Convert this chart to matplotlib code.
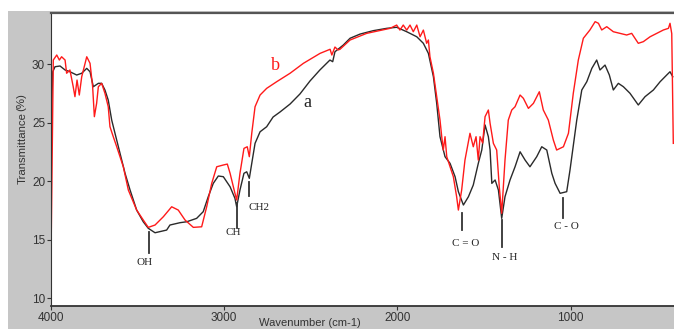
import matplotlib.pyplot as plt
from matplotlib.patches import Rectangle

# spectrum a (black)
wn_a = [3999, 3988, 3975, 3946, 3917, 3889, 3850, 3821, 3792, 3773, 3754, 3725, 3706,
        3687, 3668, 3648, 3629, 3600, 3571, 3542, 3504, 3466, 3437, 3398, 3331, 3312,
        3254, 3215, 3158, 3120, 3091, 3062, 3033, 3004, 2965, 2937, 2927, 2908, 2885,
        2869, 2854, 2840, 2821, 2792, 2754, 2717, 2677, 2619, 2562, 2504, 2447, 2389,
        2373, 2360, 2312, 2273, 2215, 2139, 2061, 2004, 1946, 1888, 1850, 1821, 1792,
        1773, 1754, 1725, 1696, 1667, 1648, 1619, 1590, 1562, 1533, 1513, 1494, 1475,
        1465, 1455, 1436, 1417, 1398, 1379, 1350, 1321, 1292, 1263, 1235, 1196, 1167,
        1138, 1109, 1090, 1061, 1023, 1004, 965, 936, 907, 878, 850, 831, 802, 777,
        754, 725, 696, 658, 610, 571, 523, 484, 446, 427, 411]
t_a = [24.1, 29.34, 29.77, 29.83, 29.49, 29.34, 29.06, 29.21, 29.63, 29.34, 28.06, 28.35,
       28.35, 27.78, 26.92, 25.21, 24.08, 22.37, 20.66, 19.23, 17.52, 16.52, 15.96, 15.58,
       15.81, 16.24, 16.44, 16.52, 16.81, 17.38, 18.66, 19.80, 20.43, 20.37, 19.51, 18.52,
       17.80, 19.23, 20.66, 20.79, 20.23, 21.51, 23.22, 24.21, 24.64, 25.47, 25.90, 26.58,
       27.44, 28.55, 29.49, 30.34, 30.20, 31.05, 31.62, 32.20, 32.56, 32.85, 33.05, 33.14,
       32.76, 32.33, 31.77, 30.91, 28.91, 26.64, 23.79, 22.08, 21.51, 20.37, 19.09, 17.95,
       18.66, 19.66, 21.51, 22.65, 24.79, 23.79, 22.65, 19.80, 20.09, 19.23, 16.81, 18.66,
       20.09, 21.22, 22.50, 21.79, 21.22, 22.08, 22.93, 22.65, 20.66, 19.80, 18.95, 19.09,
       20.94, 25.21, 27.78, 28.49, 29.63, 30.34, 29.49, 29.91, 29.06, 27.78, 28.35, 28.06,
       27.50, 26.50, 27.21, 27.78, 28.49, 29.06, 29.34, 28.91]

# spectrum b (red)
wn_b = [3999, 3985, 3965, 3950, 3937, 3917, 3908, 3889, 3870, 3860, 3848, 3835, 3821,
        3792, 3773, 3758, 3748, 3735, 3725, 3706, 3687, 3668, 3658, 3639, 3619, 3581,
        3552, 3504, 3466, 3437, 3398, 3350, 3302, 3264, 3225, 3177, 3129, 3100, 3071,
        3042, 3004, 2981, 2965, 2937, 2927, 2908, 2885, 2866, 2854, 2840, 2821, 2792,
        2754, 2696, 2619, 2542, 2446, 2388, 2378, 2360, 2342, 2331, 2273, 2177, 2042,
        2004, 1985, 1966, 1946, 1927, 1908, 1888, 1869, 1850, 1831, 1821, 1812, 1792,
        1773, 1754, 1744, 1735, 1725, 1715, 1696, 1677, 1658, 1648, 1629, 1610, 1581,
        1562, 1546, 1533, 1523, 1508, 1494, 1475, 1465, 1446, 1427, 1412, 1398, 1379,
        1360, 1340, 1321, 1292, 1273, 1244, 1215, 1181, 1158, 1129, 1100, 1081, 1042,
        1013, 985, 956, 927, 889, 859, 840, 821, 792, 754, 715, 677, 648, 610, 581,
        542, 504, 465, 436, 427, 417, 408]
t_b = [12.2, 30.34, 30.77, 30.34, 30.62, 30.34, 29.21, 29.49, 28.06, 27.21, 28.63, 27.35,
       28.91, 30.62, 30.06, 28.06, 25.50, 26.64, 28.06, 28.35, 27.50, 26.35, 24.64, 23.79,
       22.93, 21.22, 19.23, 17.52, 16.67, 16.04, 16.24, 16.95, 17.80, 17.52, 16.67, 16.04,
       16.09, 17.80, 19.80, 21.22, 21.37, 21.45, 20.66, 18.95, 18.38, 20.66, 22.79, 22.93,
       22.08, 24.08, 26.35, 27.35, 27.92, 28.49, 29.21, 30.06, 30.91, 31.26, 30.77, 31.45,
       31.20, 31.26, 32.05, 32.62, 33.05, 33.33, 32.90, 33.33, 32.90, 33.33, 32.76, 33.33,
       32.33, 32.90, 31.77, 32.05, 30.62, 29.21, 27.21, 25.21, 23.79, 22.65, 23.79, 22.08,
       21.22, 20.37, 18.66, 17.52, 19.23, 21.79, 24.08, 22.93, 23.79, 21.79, 23.79, 23.25,
       25.50, 26.07, 24.93, 23.22, 22.65, 19.51, 17.24, 21.79, 25.21, 26.07, 26.35, 27.35,
       27.07, 26.21, 26.64, 27.63, 26.07, 25.21, 23.50, 22.65, 22.93, 24.08, 27.50, 30.34,
       32.20, 32.91, 33.62, 33.48, 32.91, 33.19, 32.76, 32.62, 32.48, 32.62, 31.77, 31.91,
       32.33, 32.62, 32.91, 33.05, 33.48, 32.60, 23.22]

# peak markers: label, wavenumber, line top, line bottom
peaks = ["OH", "CH", "CH2", "C = O", "N - H", "C - O"]
peak_wn = [3433, 2925, 2856, 1627, 1396, 1044]
peak_top = [15.64, 18.12, 19.91, 17.26, 16.67, 18.55]
peak_bot = [13.85, 15.98, 18.72, 15.81, 14.36, 16.84]
label_xy = [(3456, 13.0), (2948, 15.56), (2800, 17.78), (1604, 14.7), (1379, 13.5), (1027, 16.15)]

fig = plt.figure(figsize=(6.74, 3.29), dpi=100)
fig.patch.set_facecolor("white")
fig.patches.append(Rectangle((0.012, 0), 0.988, 0.967, transform=fig.transFigure,
                             facecolor="#c6c6c6", edgecolor="none", zorder=-10))

ax = fig.add_axes([0.0752, 0.0699, 0.9248, 0.892])
ax.set_facecolor("white")
ax.plot(wn_a, t_a, color="#2a2a2a", lw=1.0)
ax.plot(wn_b, t_b, color="#ff1a1a", lw=1.0)

for name, w, t0, t1, (lx, ly) in zip(peaks, peak_wn, peak_top, peak_bot, label_xy):
    ax.plot([w, w], [t0, t1], color="#333333", lw=1.3)
    ax.text(lx, ly, name, family="Liberation Serif", fontsize=8, ha="center",
            va="center", color="#222222")

ax.text(2706, 29.9, "b", family="Liberation Serif", fontsize=13, color="#ff1a1a",
        ha="center", va="center")
ax.text(2521, 26.75, "a", family="Liberation Serif", fontsize=13, color="#222222",
        ha="center", va="center")

ax.set_xlim(4000, 404)
ax.set_ylim(9.32, 34.4)
ax.set_xticks([4000, 3000, 2000, 1000])
ax.set_yticks([10, 15, 20, 25, 30])
ax.tick_params(direction="out", length=3, width=0.8, labelsize=8.5, colors="#333333",
               pad=1)
for lab in ax.get_xticklabels() + ax.get_yticklabels():
    lab.set_family("Liberation Sans")
ax.spines["right"].set_visible(False)
ax.spines["top"].set_color("#555555")
ax.spines["top"].set_linewidth(1.6)
ax.spines["bottom"].set_color("#333333")
ax.spines["bottom"].set_linewidth(1.3)
ax.spines["left"].set_color("#333333")

fig.text(0.46, 0.017, "Wavenumber (cm-1)", family="Liberation Sans", fontsize=8,
         ha="center", va="center", color="#333333")
fig.text(0.033, 0.55, "Transmittance", family="Liberation Sans", fontsize=8.2,
         rotation=90, ha="center", va="center", color="#333333")
fig.text(0.031, 0.69, "(%)", family="Liberation Sans", fontsize=8.2, rotation=90,
         ha="center", va="center", color="#333333")

fig.savefig("out.png", dpi=100, facecolor=fig.get_facecolor())
